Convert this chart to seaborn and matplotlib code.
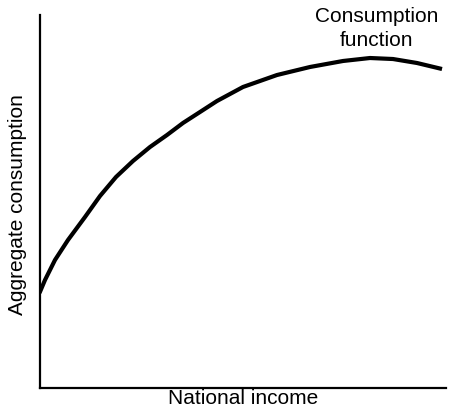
import matplotlib
matplotlib.use("Agg")
import matplotlib.pyplot as plt
import seaborn as sns
import pandas as pd

# Data (arbitrary units)
national_income = [0, 1.35, 3.81, 7.01, 11.19, 14.88, 18.82, 23.00, 27.18, 31.37, 35.30,
                   39.48, 43.66, 50.06, 58.42, 66.54, 74.66, 81.30, 86.96, 92.87, 99.02]
aggregate_consumption = [25.47, 28.95, 34.32, 39.68, 45.84, 51.47, 56.57, 60.86, 64.61, 67.83, 71.05,
                         73.99, 76.94, 80.70, 83.91, 86.06, 87.67, 88.47, 88.20, 87.13, 85.52]
x_label = "National income"
y_label = "Aggregate consumption"
curve_label = ["Consumption", "function"]

sns.set_style("white")
plt.rcParams["font.family"] = ["Liberation Sans", "DejaVu Sans"]
plt.rcParams["text.color"] = "black"

df = pd.DataFrame({"x": national_income, "y": aggregate_consumption})

W, H = 450, 418
fig = plt.figure(figsize=(W / 100, H / 100), dpi=100)
left, right, top, bottom = 39.5, 446, 15, 388
ax = fig.add_axes([left / W, 1 - bottom / H, (right - left) / W, (bottom - top) / H])

sns.lineplot(data=df, x="x", y="y", ax=ax, color="black", linewidth=3.0,
             solid_capstyle="butt", solid_joinstyle="round")

ax.set_xlim(0, 100)
ax.set_ylim(0, 100)
ax.set_xticks([])
ax.set_yticks([])
ax.set_xlabel("")
ax.set_ylabel("")
for s in ["top", "right"]:
    ax.spines[s].set_visible(False)
for s in ["left", "bottom"]:
    ax.spines[s].set_color("black")
    ax.spines[s].set_linewidth(1.6)

fs = 15
fig.text(243 / W, 1 - 404 / H, x_label, ha="center", va="baseline", fontsize=fs, color="black")
fig.text(23.5 / W, 1 - 205 / H, y_label, ha="center", va="baseline", rotation=90,
         rotation_mode="anchor", fontsize=fs, color="black")
fig.text(377 / W, 1 - 22.5 / H, curve_label[0], ha="center", va="baseline", fontsize=fs, color="black")
fig.text(377 / W, 1 - 46.5 / H, curve_label[1], ha="center", va="baseline", fontsize=fs, color="black")

fig.savefig("out.png", dpi=100)
